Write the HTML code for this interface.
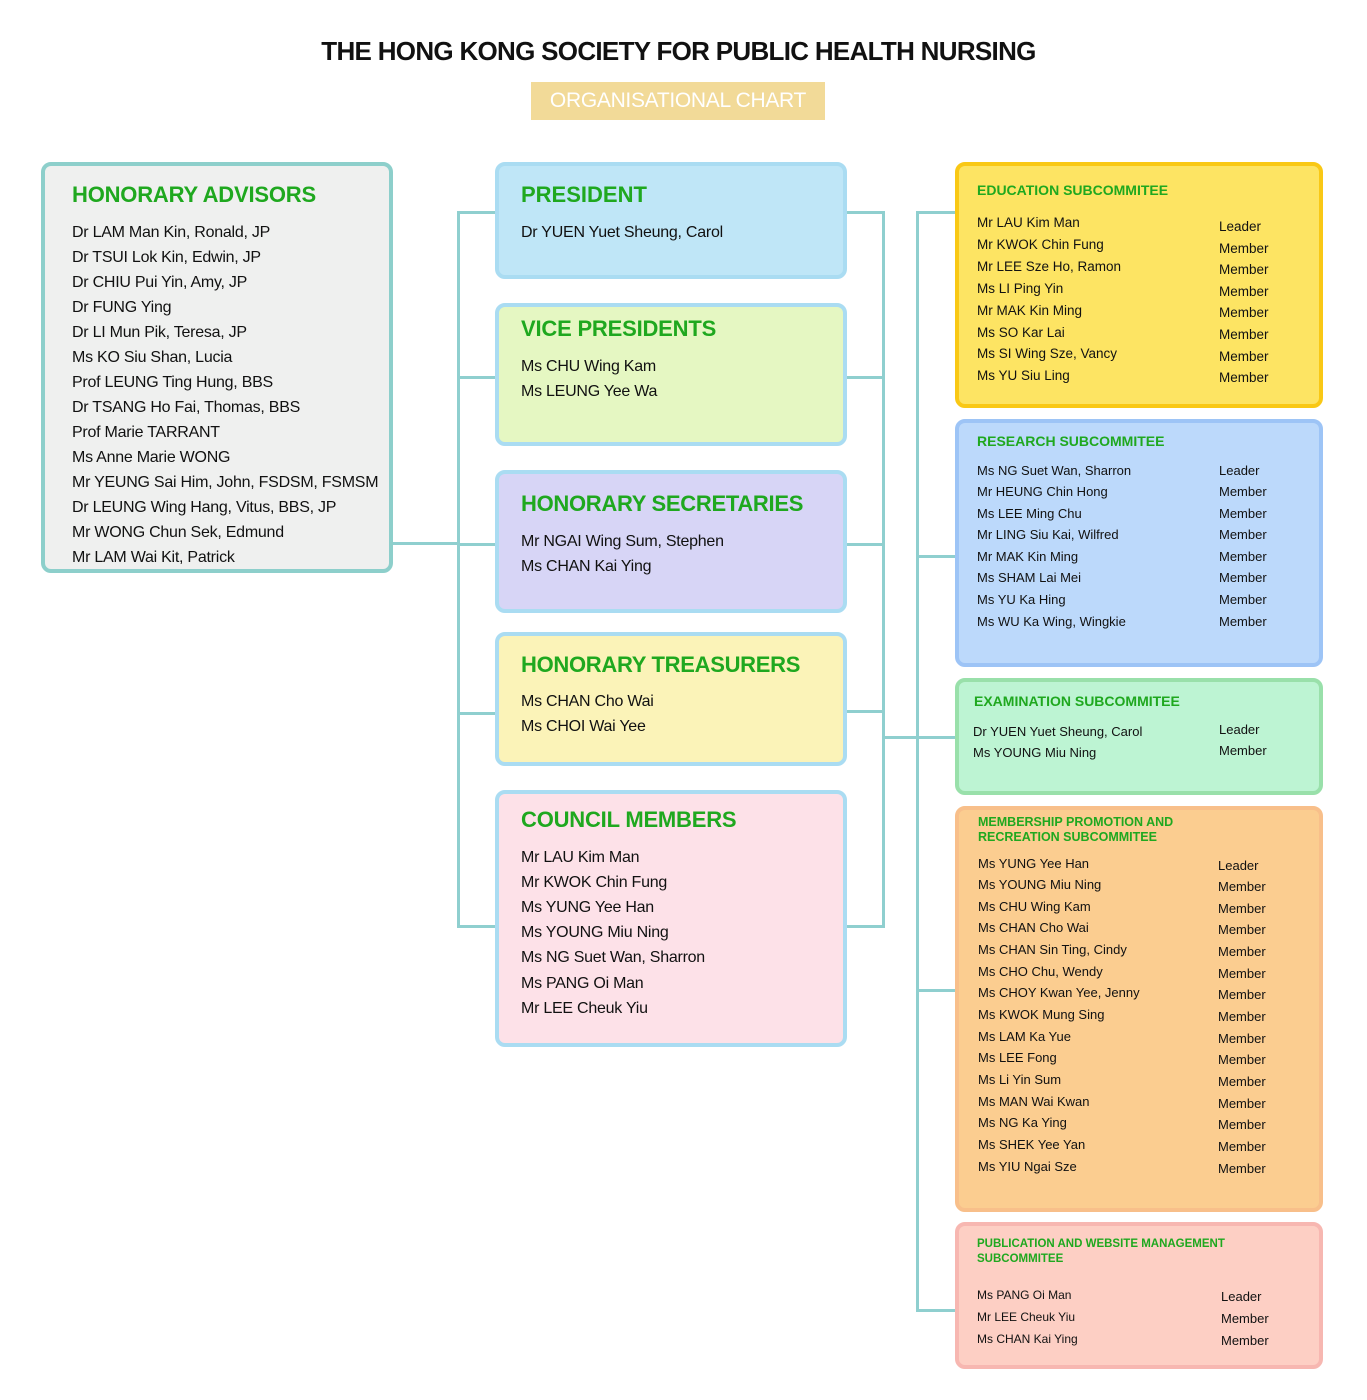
<!DOCTYPE html>
<html><head><meta charset="utf-8"><style>
body{margin:0;width:1367px;height:1400px;background:#fff;position:relative;font-family:"Liberation Sans",Arial,sans-serif;overflow:hidden}
.a{position:absolute}
.box{position:absolute;box-sizing:border-box;border-radius:10px;border:4px solid}
.h{position:absolute;color:#1fa81f;font-weight:bold;white-space:nowrap}
.l{position:absolute;white-space:nowrap;color:#111}
.m{letter-spacing:-0.25px}
.ln{position:absolute;background:#8fcfcf}
</style></head><body>
<div class="a" style="left:0;width:1357px;top:36px;text-align:center;font-weight:bold;font-size:26px;letter-spacing:-0.7px;color:#111">THE HONG KONG SOCIETY FOR PUBLIC HEALTH NURSING</div>
<div class="a" style="left:531px;top:82px;width:294px;height:38px;background:#f2da98;color:#fff;font-size:21px;text-align:center;line-height:38px;letter-spacing:-0.3px">ORGANISATIONAL CHART</div>

<div class="ln" style="left:392px;top:542px;width:67px;height:3px"></div>
<div class="ln" style="left:457px;top:211px;width:3px;height:717px"></div>
<div class="ln" style="left:457px;top:211px;width:40px;height:3px"></div>
<div class="ln" style="left:457px;top:376px;width:40px;height:3px"></div>
<div class="ln" style="left:457px;top:543px;width:40px;height:3px"></div>
<div class="ln" style="left:457px;top:712px;width:40px;height:3px"></div>
<div class="ln" style="left:457px;top:925px;width:40px;height:3px"></div>
<div class="ln" style="left:846px;top:211px;width:39px;height:3px"></div>
<div class="ln" style="left:846px;top:376px;width:39px;height:3px"></div>
<div class="ln" style="left:846px;top:543px;width:39px;height:3px"></div>
<div class="ln" style="left:846px;top:710px;width:39px;height:3px"></div>
<div class="ln" style="left:846px;top:925px;width:39px;height:3px"></div>
<div class="ln" style="left:882px;top:211px;width:3px;height:717px"></div>
<div class="ln" style="left:882px;top:736px;width:75px;height:3px"></div>
<div class="ln" style="left:916px;top:211px;width:3px;height:1101px"></div>
<div class="ln" style="left:916px;top:211px;width:41px;height:3px"></div>
<div class="ln" style="left:916px;top:555px;width:41px;height:3px"></div>
<div class="ln" style="left:916px;top:989px;width:41px;height:3px"></div>
<div class="ln" style="left:916px;top:1309px;width:41px;height:3px"></div>

<div class="box" style="left:41px;top:162px;width:352px;height:411px;background:#eff0ef;border-color:#8dcfcb"></div>
<div class="h" style="left:72px;top:182px;font-size:22px;letter-spacing:-0.2px">HONORARY ADVISORS</div>
<div class="l m" style="left:72px;top:219.5px;font-size:16px;line-height:25px">Dr LAM Man Kin, Ronald, JP<br>Dr TSUI Lok Kin, Edwin, JP<br>Dr CHIU Pui Yin, Amy, JP<br>Dr FUNG Ying<br>Dr LI Mun Pik, Teresa, JP<br>Ms KO Siu Shan, Lucia<br>Prof LEUNG Ting Hung, BBS<br>Dr TSANG Ho Fai, Thomas, BBS<br>Prof Marie TARRANT<br>Ms Anne Marie WONG<br>Mr YEUNG Sai Him, John, FSDSM, FSMSM<br>Dr LEUNG Wing Hang, Vitus, BBS, JP<br>Mr WONG Chun Sek, Edmund<br>Mr LAM Wai Kit, Patrick</div>

<div class="box" style="left:495px;top:162px;width:352px;height:117px;background:#bfe6f7;border-color:#aadcf2"></div>
<div class="h" style="left:521px;top:182px;font-size:22px">PRESIDENT</div>
<div class="l m" style="left:521px;top:219.5px;font-size:16px;line-height:25px">Dr YUEN Yuet Sheung, Carol</div>

<div class="box" style="left:495px;top:303px;width:352px;height:143px;background:#e5f7c2;border-color:#aadcf2"></div>
<div class="h" style="left:521px;top:316px;font-size:22px;letter-spacing:-0.2px">VICE PRESIDENTS</div>
<div class="l m" style="left:521px;top:353.5px;font-size:16px;line-height:25px">Ms CHU Wing Kam<br>Ms LEUNG Yee Wa</div>

<div class="box" style="left:495px;top:470px;width:352px;height:143px;background:#d7d5f6;border-color:#aadcf2"></div>
<div class="h" style="left:521px;top:491px;font-size:22px;letter-spacing:-0.3px">HONORARY SECRETARIES</div>
<div class="l m" style="left:521px;top:528.5px;font-size:16px;line-height:25px">Mr NGAI Wing Sum, Stephen<br>Ms CHAN Kai Ying</div>

<div class="box" style="left:495px;top:632px;width:352px;height:134px;background:#fbf3b8;border-color:#aadcf2"></div>
<div class="h" style="left:521px;top:652px;font-size:22px;letter-spacing:-0.3px">HONORARY TREASURERS</div>
<div class="l m" style="left:521px;top:688.5px;font-size:16px;line-height:25px">Ms CHAN Cho Wai<br>Ms CHOI Wai Yee</div>

<div class="box" style="left:495px;top:790px;width:352px;height:257px;background:#fde1e8;border-color:#aadcf2"></div>
<div class="h" style="left:521px;top:807px;font-size:22px;letter-spacing:-0.2px">COUNCIL MEMBERS</div>
<div class="l m" style="left:521px;top:844.5px;font-size:16px;line-height:25.2px">Mr LAU Kim Man<br>Mr KWOK Chin Fung<br>Ms YUNG Yee Han<br>Ms YOUNG Miu Ning<br>Ms NG Suet Wan, Sharron<br>Ms PANG Oi Man<br>Mr LEE Cheuk Yiu</div>

<div class="box" style="left:955px;top:162px;width:368px;height:246px;background:#fde463;border-color:#f9c815"></div>
<div class="h" style="left:977px;top:182px;font-size:14px">EDUCATION SUBCOMMITEE</div>
<div class="l" style="left:977px;top:212px;font-size:13.5px;line-height:21.9px">Mr LAU Kim Man<br>Mr KWOK Chin Fung<br>Mr LEE Sze Ho, Ramon<br>Ms LI Ping Yin<br>Mr MAK Kin Ming<br>Ms SO Kar Lai<br>Ms SI Wing Sze, Vancy<br>Ms YU Siu Ling</div>
<div class="l" style="left:1219px;top:216px;font-size:13.5px;line-height:21.6px">Leader<br>Member<br>Member<br>Member<br>Member<br>Member<br>Member<br>Member</div>

<div class="box" style="left:955px;top:419px;width:368px;height:248px;background:#bcd9fb;border-color:#9dc4f6"></div>
<div class="h" style="left:977px;top:433px;font-size:14px">RESEARCH SUBCOMMITEE</div>
<div class="l" style="left:977px;top:459.5px;font-size:13px;line-height:21.6px">Ms NG Suet Wan, Sharron<br>Mr HEUNG Chin Hong<br>Ms LEE Ming Chu<br>Mr LING Siu Kai, Wilfred<br>Mr MAK Kin Ming<br>Ms SHAM Lai Mei<br>Ms YU Ka Hing<br>Ms WU Ka Wing, Wingkie</div>
<div class="l" style="left:1219px;top:459.5px;font-size:13px;line-height:21.6px">Leader<br>Member<br>Member<br>Member<br>Member<br>Member<br>Member<br>Member</div>

<div class="box" style="left:955px;top:678px;width:368px;height:117px;background:#bdf4d3;border-color:#99e0aa"></div>
<div class="h" style="left:974px;top:693px;font-size:14px">EXAMINATION SUBCOMMITEE</div>
<div class="l" style="left:973px;top:720.5px;font-size:13px;line-height:21.4px">Dr YUEN Yuet Sheung, Carol<br>Ms YOUNG Miu Ning</div>
<div class="l" style="left:1219px;top:719px;font-size:13px;line-height:21.4px">Leader<br>Member</div>

<div class="box" style="left:955px;top:806px;width:368px;height:406px;background:#fbcd90;border-color:#f8bf8a"></div>
<div class="h" style="left:978px;top:815px;font-size:12.5px;line-height:14.5px">MEMBERSHIP PROMOTION AND<br>RECREATION SUBCOMMITEE</div>
<div class="l" style="left:978px;top:852.5px;font-size:13px;line-height:21.65px">Ms YUNG Yee Han<br>Ms YOUNG Miu Ning<br>Ms CHU Wing Kam<br>Ms CHAN Cho Wai<br>Ms CHAN Sin Ting, Cindy<br>Ms CHO Chu, Wendy<br>Ms CHOY Kwan Yee, Jenny<br>Ms KWOK Mung Sing<br>Ms LAM Ka Yue<br>Ms LEE Fong<br>Ms Li Yin Sum<br>Ms MAN Wai Kwan<br>Ms NG Ka Ying<br>Ms SHEK Yee Yan<br>Ms YIU Ngai Sze</div>
<div class="l" style="left:1218px;top:854.5px;font-size:13px;line-height:21.65px">Leader<br>Member<br>Member<br>Member<br>Member<br>Member<br>Member<br>Member<br>Member<br>Member<br>Member<br>Member<br>Member<br>Member<br>Member</div>

<div class="box" style="left:955px;top:1222px;width:368px;height:147px;background:#fdcfc4;border-color:#f7b7b1"></div>
<div class="h" style="left:977px;top:1237px;font-size:11.5px;line-height:14.5px">PUBLICATION AND WEBSITE MANAGEMENT<br>SUBCOMMITEE</div>
<div class="l" style="left:977px;top:1285px;font-size:12px;line-height:21.8px">Ms PANG Oi Man<br>Mr LEE Cheuk Yiu<br>Ms CHAN Kai Ying</div>
<div class="l" style="left:1221px;top:1286px;font-size:13px;line-height:21.8px">Leader<br>Member<br>Member</div>
</body></html>
